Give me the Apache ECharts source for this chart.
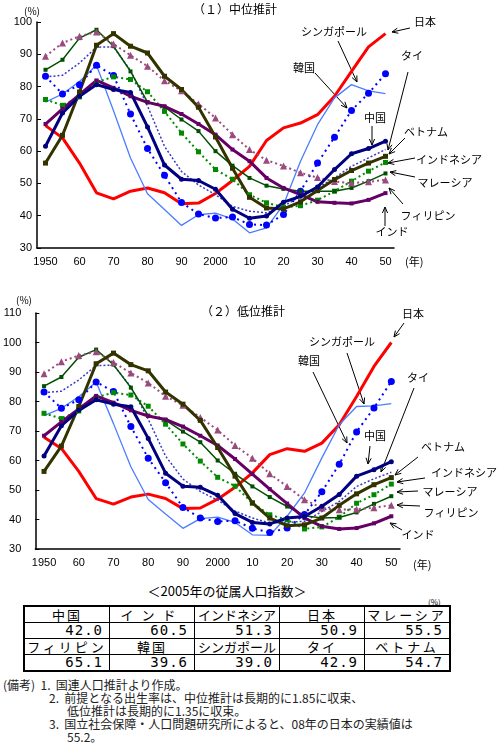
<!DOCTYPE html>
<html>
<head>
<meta charset="utf-8">
<script src="https://cdn.jsdelivr.net/npm/echarts@6/dist/echarts.min.js"></script>
<style>
body { margin: 0; width: 500px; height: 747px; position: relative; background: #fff; font-family: "Noto Sans CJK JP", sans-serif; color: #000; overflow: hidden; }
#chart { position: absolute; left: 0; top: 0; width: 500px; height: 580px; }
.abs { position: absolute; white-space: nowrap; }
#tbl { position: absolute; left: 23px; top: 605px; border-collapse: collapse; border: 2px solid #000; table-layout: fixed; }
#tbl td { width: 84px; height: 15px; padding: 0; border: 1px solid #000; font-size: 13px; line-height: 15px; }
#tbl td.h { text-align: center; }
#tbl td.v { text-align: right; padding-right: 6px; width: 78px; font-family: "DejaVu Sans Mono", monospace; font-size: 14px; letter-spacing: 1px; }
.note { font-size: 12px; line-height: 13px; color: #222; }
</style>
</head>
<body>
<div id="chart"></div>
<div class="abs" style="left:0;width:454px;top:581px;text-align:center;font-size:13px;">＜2005年の従属人口指数＞</div>
<div class="abs" style="left:428px;top:596px;font-size:8px;">(%)</div>
<table id="tbl">
  <tr><td class="h" style="letter-spacing:2px">中国</td><td class="h" style="letter-spacing:8px">インド</td><td class="h">インドネシア</td><td class="h" style="letter-spacing:2px">日本</td><td class="h" style="letter-spacing:3px">マレーシア</td></tr>
  <tr><td class="v">42.0</td><td class="v">60.5</td><td class="v">51.3</td><td class="v">50.9</td><td class="v">55.5</td></tr>
  <tr><td class="h" style="letter-spacing:3px">フィリピン</td><td class="h" style="letter-spacing:2px">韓国</td><td class="h">シンガポール</td><td class="h" style="letter-spacing:2px">タイ</td><td class="h" style="letter-spacing:3px">ベトナム</td></tr>
  <tr><td class="v">65.1</td><td class="v">39.6</td><td class="v">39.0</td><td class="v">42.9</td><td class="v">54.7</td></tr>
</table>
<div class="abs note" style="left:3px;top:678px;">(備考)&nbsp;&nbsp;1.&nbsp;&nbsp;国連人口推計より作成。</div>
<div class="abs note" style="left:49px;top:691px;">2.&nbsp;&nbsp;前提となる出生率は、中位推計は長期的に1.85に収束、</div>
<div class="abs note" style="left:67px;top:704px;">低位推計は長期的に1.35に収束。</div>
<div class="abs note" style="left:49px;top:717px;">3.&nbsp;&nbsp;国立社会保障・人口問題研究所によると、08年の日本の実績値は</div>
<div class="abs note" style="left:67px;top:730px;">55.2。</div>
<script>
// 1950-2050, 5-year steps
const years = ['1950','1955','1960','1965','1970','1975','1980','1985','1990','1995','2000',
               '2005','2010','2015','2020','2025','2030','2035','2040','2045','2050'];
const tickLabels = ['1950','','60','','70','','80','','90','','2000','','10','','20','','30','','40','','50'];

// medium variant (full 1950-2050)
const japanMid       = [67.9,64.1,56.3,47.1,45.2,47.6,48.6,47.1,43.7,43.9,46.9,50.9,55.3,63.3,67.2,68.7,71.3,77.0,84.7,92.3,96.4];
const singaporeMid   = [75.2,77.7,81.6,86.6,72.5,57.9,46.8,41.9,37.0,40.3,40.8,39.0,34.7,36.2,43.4,56.9,68.2,76.5,80.6,78.7,77.8];
const koreaMid       = [83.2,77.7,80.6,86.6,83.4,71.5,60.8,52.5,44.1,40.5,39.3,39.6,37.3,37.1,40.4,47.6,56.3,64.3,72.6,77.9,84.0];
const thailandMid    = [83.0,83.5,87.3,92.2,92.3,85.0,74.0,61.5,53.7,49.5,46.5,42.9,41.4,40.9,42.9,46.0,48.6,51.7,55.3,57.9,60.5];
const chinaMid       = [61.5,71.8,77.0,80.6,79.1,78.2,67.5,55.7,51.3,50.9,48.2,42.0,39.2,39.9,44.2,46.0,48.9,54.3,59.2,60.8,63.1];
const vietnamMid     = [56.3,64.9,78.3,92.8,96.4,92.5,90.4,83.2,79.1,73.6,64.4,54.7,45.7,42.4,42.1,44.3,47.8,51.2,54.0,56.3,58.4];
const indonesiaMid   = [76.0,74.2,76.8,81.4,83.0,82.2,78.4,72.3,65.6,59.8,54.3,51.3,46.5,44.0,42.6,43.1,44.8,47.6,50.7,53.8,56.5];
const malaysiaMid    = [85.2,88.3,95.0,97.6,92.5,84.7,75.2,73.7,69.8,66.2,60.0,55.5,51.7,49.3,48.3,47.6,47.6,47.6,48.6,50.7,53.1];
const philippinesMid = [89.4,93.5,95.6,96.9,93.2,89.7,86.3,81.8,78.7,74.6,70.3,65.1,60.5,57.2,55.4,53.3,51.8,50.6,50.1,50.5,51.1];
const indiaMid       = [68.4,73.1,77.5,81.9,79.6,77.0,75.1,73.9,71.5,68.4,65.1,60.5,56.9,51.7,48.6,46.5,44.3,44.0,43.8,44.9,47.0];

// low variant, 2010-2050 (1950-2005 shared with medium)
const japanLow       = [55.8,62.0,64.0,63.1,65.9,72.1,81.7,91.9,100.0];
const singaporeLow   = [34.8,34.6,41.1,49.0,60.9,72.1,78.3,78.5,79.3];
const koreaLow       = [37.0,35.6,37.1,41.7,49.4,58.7,69.7,77.8,86.8];
const thailandLow    = [40.5,38.8,39.0,39.4,42.7,46.1,51.2,53.8,56.0];
const chinaLow       = [39.0,38.5,40.5,41.0,44.5,48.5,54.7,56.9,59.6];
const vietnamLow     = [45.6,40.5,37.9,38.2,40.5,44.8,48.7,51.8,54.2];
const indonesiaLow   = [45.6,41.6,39.9,36.8,37.5,40.8,45.5,48.4,52.0];
const malaysiaLow    = [51.2,47.6,44.4,41.3,40.5,40.7,42.4,45.3,47.9];
const philippinesLow = [60.8,55.5,51.2,46.7,43.9,43.3,43.5,44.0,44.8];
const indiaLow       = [55.4,50.3,45.4,40.5,37.7,36.8,37.1,38.7,41.1];

const countries = [
  { name: '日本',         mid: japanMid,       low: japanLow,       color: '#ff0000', width: 3,   type: 'solid',  symbol: 'none' },
  { name: 'シンガポール', mid: singaporeMid,   low: singaporeLow,   color: '#4a7dff', width: 1.3, type: 'solid',  symbol: 'none' },
  { name: 'タイ',         mid: thailandMid,    low: thailandLow,    color: '#3a3ac8', width: 1.5, type: [2, 2], symbol: 'none' },
  { name: '韓国',         mid: koreaMid,       low: koreaLow,       color: '#0000ff', width: 2,   type: [2, 4], symbol: 'circle', size: 7 },
  { name: 'インドネシア', mid: indonesiaMid,   low: indonesiaLow,   color: '#008a00', width: 2,   type: [2, 3], symbol: 'rect', size: 5 },
  { name: 'マレーシア',   mid: malaysiaMid,    low: malaysiaLow,    color: '#005000', width: 1.5, type: 'solid',  symbol: 'rect', size: 4 },
  { name: 'フィリピン',   mid: philippinesMid, low: philippinesLow, color: '#9a4a7c', width: 2,   type: [2, 3], symbol: 'triangle', size: 7 },
  { name: 'インド',       mid: indiaMid,       low: indiaLow,       color: '#660066', width: 3,   type: 'solid',  symbol: 'rect', size: 4 },
  { name: 'ベトナム',     mid: vietnamMid,     low: vietnamLow,     color: '#333300', width: 3,   type: 'solid',  symbol: 'rect', size: 5 },
  { name: '中国',         mid: chinaMid,       low: chinaLow,       color: '#000080', width: 3,   type: 'solid',  symbol: 'circle', size: 5 }
];

const chart = echarts.init(document.getElementById('chart'), null, { renderer: 'canvas' });

function xAxisFor(gridIndex) {
  return {
    type: 'category', gridIndex: gridIndex, data: years, boundaryGap: true,
    axisLine: { lineStyle: { color: '#000', width: 1.5 } },
    axisTick: { inside: true, length: 4, interval: 0, lineStyle: { color: '#000' } },
    axisLabel: { interval: 0, formatter: (v, i) => tickLabels[i], color: '#000', fontSize: 11, fontFamily: 'Liberation Sans', margin: 8 }
  };
}
function yAxisFor(gridIndex, max, margin) {
  return {
    type: 'value', gridIndex: gridIndex, min: 30, max: max, interval: 10,
    axisLine: { show: true, lineStyle: { color: '#000', width: 1.5 } },
    axisTick: { show: true, inside: true, length: 4, lineStyle: { color: '#000' } },
    splitLine: { show: false },
    axisLabel: { color: '#000', fontSize: 11, fontFamily: 'Liberation Sans', margin: margin }
  };
}

let series = [];
countries.forEach(c => {
  [0, 1].forEach(g => {
    const data = g === 0 ? c.mid : c.mid.slice(0, 12).concat(c.low);
    series.push({
      name: c.name, type: 'line', xAxisIndex: g, yAxisIndex: g, data: data,
      symbol: c.symbol, symbolSize: c.size || 0, showSymbol: c.symbol !== 'none',
      lineStyle: { color: c.color, width: c.width, type: c.type },
      itemStyle: { color: c.color },
      silent: true
    });
  });
});

function txt(x, y, s, size, align) {
  return { type: 'text', x: x, y: y, style: { text: s, fontSize: size || 11, fontFamily: 'Noto Sans CJK JP', fill: '#000', align: align || 'center', verticalAlign: 'middle' } };
}
function arrow(x1, y1, x2, y2) {
  const a = Math.atan2(y2 - y1, x2 - x1), L = 6, W = 2.6;
  const p1 = [x2 - L * Math.cos(a) + W * Math.sin(a), y2 - L * Math.sin(a) - W * Math.cos(a)];
  const p2 = [x2 - L * Math.cos(a) - W * Math.sin(a), y2 - L * Math.sin(a) + W * Math.cos(a)];
  return [
    { type: 'line', shape: { x1: x1, y1: y1, x2: x2, y2: y2 }, style: { stroke: '#000', lineWidth: 1 } },
    { type: 'polyline', shape: { points: [p1, [x2, y2], p2] }, style: { stroke: '#000', lineWidth: 1, fill: null } }
  ];
}

// annotation labels: [label, textX, textY, arrow from, arrow to]
const notesTop = [
  ['日本', 425, 22, 410, 28, 392, 32],
  ['シンガポール', 334, 32, 338, 41, 357, 82],
  ['韓国', 304, 68, 315, 73, 347, 108],
  ['タイ', 412, 56, 408, 72, 388, 150],
  ['中国', 375, 118, 372, 126, 372, 145],
  ['ベトナム', 426, 132, 405, 138, 389, 154],
  ['インドネシア', 449, 160, 415, 158, 388, 163],
  ['マレーシア', 445, 183, 415, 177, 390, 172],
  ['フィリピン', 428, 216, 403, 204, 389, 188],
  ['インド', 392, 232, 385, 226, 385, 207]
];
const notesLow = [
  ['日本', 413, 314, 404, 323, 394, 337],
  ['シンガポール', 342, 342, 347, 353, 364, 404],
  ['韓国', 309, 361, 313, 372, 347, 443],
  ['タイ', 418, 378, 414, 388, 381, 472],
  ['中国', 375, 436, 370, 446, 368, 464],
  ['ベトナム', 443, 447, 418, 457, 395, 475],
  ['インドネシア', 464, 473, 425, 478, 397, 482],
  ['マレーシア', 450, 492, 418, 491, 397, 492],
  ['フィリピン', 451, 513, 420, 506, 397, 505],
  ['インド', 418, 535, 402, 530, 390, 523]
];

let graphics = [
  txt(235, 9, '（１）中位推計', 12),
  txt(243, 311, '（２）低位推計', 12),
  txt(32, 11, '(%)', 10),
  txt(24, 300, '(%)', 10),
  txt(405, 262, '(年)', 11, 'left'),
  txt(413, 565, '(年)', 11, 'left')
];
notesTop.concat(notesLow).forEach(n => {
  graphics.push(txt(n[1], n[2], n[0], 11));
  graphics = graphics.concat(arrow(n[3], n[4], n[5], n[6]));
});

chart.setOption({
  animation: false,
  grid: [
    { left: 37, top: 22, width: 357, height: 226 },
    { left: 35, top: 313, width: 365, height: 236 }
  ],
  xAxis: [xAxisFor(0), xAxisFor(1)],
  yAxis: [yAxisFor(0, 100, 5), yAxisFor(1, 110, 14)],
  series: series,
  graphic: graphics
});
</script>
</body>
</html>
